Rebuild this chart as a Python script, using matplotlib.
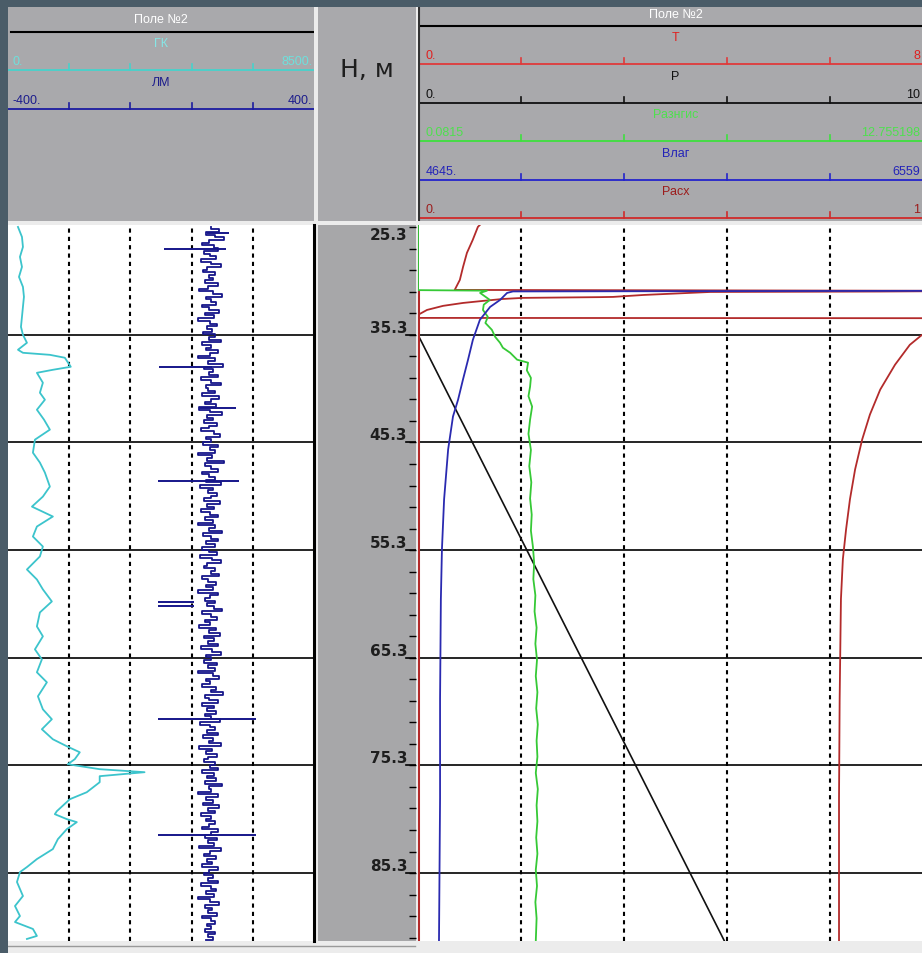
import numpy as np
import matplotlib
matplotlib.use('Agg')
import matplotlib.pyplot as plt
from matplotlib.transforms import blended_transform_factory

W, H = 922, 954

# depth range of the log window and the labelled depth lines
depth_top = 25.10
depth_bot = 91.61
depth_marks = [25.3, 35.3, 45.3, 55.3, 65.3, 75.3, 85.3]
depth_ticks = np.arange(25.3, 91.6, 2.0)

# ---- left track: GK (0..8500) ----
gk_depth = [25.28, 26.21, 27.14, 28.06, 28.99, 29.92, 30.85, 31.77, 32.70, 33.63,
            34.56, 35.30, 36.04, 36.69, 36.97, 37.16, 37.43, 38.27, 38.55, 38.83,
            39.75, 40.68, 41.33, 42.26, 43.18, 44.11, 45.04, 46.25, 47.17, 48.10,
            49.40, 50.33, 51.26, 52.18, 53.11, 54.04, 54.97, 55.89, 57.10, 58.03,
            58.95, 60.07, 61.09, 62.39, 63.31, 64.52, 65.45, 66.65, 67.58, 68.88,
            70.09, 71.01, 71.94, 72.87, 73.52, 74.08, 74.72, 75.19, 75.65, 75.93,
            76.30, 76.86, 77.79, 78.44, 79.55, 79.83, 80.29, 80.57, 81.22, 82.15,
            83.07, 84.00, 84.74, 85.21, 86.13, 87.43, 88.36, 89.29, 89.85, 90.49,
            91.14, 91.42]
gk_value = [277, 388, 415, 332, 388, 305, 415, 443, 415, 388,
            360, 415, 526, 277, 415, 1163, 1578, 1744, 1246, 803,
            969, 886, 1025, 803, 1000, 1163, 748, 692, 886, 1025,
            1163, 969, 665, 1246, 803, 692, 969, 886, 526, 803,
            969, 1218, 886, 803, 969, 748, 941, 803, 1080, 831,
            969, 1218, 941, 1246, 1634, 1994, 1855, 1661, 2547, 3794,
            2547, 2547, 2188, 1717, 1357, 1301, 1634, 1911, 1634, 1385,
            1246, 803, 526, 332, 249, 415, 194, 332, 194, 692,
            803, 526]

# ---- left track: LM (-400..400), sampled every 0.25 m from 25.25 m ----
lm_start, lm_step = 25.25, 0.25
lm_value = [130, 152, 118, 140, 165, 125, 108, 138, 150, 112, 128, 145, 104, 132, 158, 120, 110, 142, 126, 136,
            115, 148, 122, 100, 135, 160, 118, 130, 144, 108, 126, 152, 114, 138, 96, 128, 146, 120, 134, 110,
            142, 125, 158, 106, 132, 118, 150, 128, 98, 140, 122, 162, 112, 136, 126, 148, 104, 130, 156, 118,
            124, 140, 108, 152, 132, 116, 144, 100, 128, 160, 120, 136, 112, 146, 126, 104, 138, 154, 118, 130,
            110, 148, 128, 142, 98, 134, 120, 164, 114, 130, 150, 106, 126, 140, 118, 158, 102, 136, 124, 146,
            132, 112, 154, 120, 138, 104, 128, 148, 116, 136, 96, 142, 126, 160, 110, 132, 150, 118, 140, 108,
            126, 146, 102, 134, 156, 120, 112, 140, 130, 152, 106, 124, 144, 118, 136, 98, 150, 128, 114, 142,
            120, 138, 160, 108, 132, 146, 116, 128, 100, 144, 126, 154, 112, 138, 122, 148, 104, 134, 158, 118,
            130, 112, 146, 124, 140, 98, 136, 152, 118, 128, 108, 144, 132, 162, 114, 126, 150, 106, 138, 120,
            144, 116, 132, 154, 102, 128, 140, 120, 148, 110, 136, 126, 158, 100, 134, 118, 146, 124, 112, 142,
            128, 150, 106, 138, 120, 144, 114, 160, 126, 132, 98, 148, 118, 136, 110, 152, 124, 140, 104, 130,
            118, 142, 126, 108, 150, 132, 114, 146, 122, 138, 100, 156, 128, 112, 144, 120, 134, 106, 148, 126,
            112, 136, 124, 150, 104, 130, 144, 118, 138, 96, 128, 152, 116, 134, 122, 146, 108, 132, 140, 120,
            130, 114, 142, 124, 136, 118]
# single-sample spikes of LM
lm_spike_depth = [25.8, 27.3, 38.3, 42.1, 48.9, 60.15, 60.45, 71.0, 81.8]
lm_spike_lo = [120, 9, -4, 100, -7, -7, -7, -7, -7]
lm_spike_hi = [178, 170, 134, 197, 205, 85, 85, 249, 249]

# ---- right track ----
t_depth = [25.10, 25.28, 26.49, 27.69, 28.99, 30.20, 31.13, 31.22, 31.28, 31.32,
           31.60, 31.78, 31.80, 31.87, 31.97, 32.15, 32.34, 32.61, 32.99, 33.45,
           33.73, 33.76, 35.10, 35.30, 36.23, 38.08, 40.39, 42.71, 45.02, 47.80,
           50.58, 53.36, 56.13, 59.84, 64.47, 69.10, 78.36, 91.61]
t_value = [0.96, 0.93, 0.85, 0.76, 0.70, 0.65, 0.57, 9.0, 7.18, 4.54,
           3.50, 3.03, 2.83, 1.63, 1.32, 1.01, 0.70, 0.39, 0.14, 0.0,
           0.0, 9.0, 9.0, 7.83, 7.64, 7.41, 7.18, 7.02, 6.90, 6.79,
           6.71, 6.65, 6.60, 6.57, 6.56, 6.55, 6.54, 6.54]

p_depth = [25.10, 35.30, 91.61]
p_value = [0.0, 0.0, 5.95]

rz_depth = [25.10, 31.15, 31.20, 31.41, 32.06, 32.50, 32.99, 33.63, 34.20, 34.84,
            35.49, 36.04, 36.50, 36.97, 37.61, 37.89, 38.60, 39.30, 40.11, 41.00,
            41.97, 43.17, 44.50, 46.00, 47.50, 49.00, 50.50, 52.00, 53.50, 55.00,
            56.50, 58.00, 59.50, 61.00, 62.50, 64.00, 65.50, 67.00, 68.50, 70.00,
            71.50, 73.00, 74.50, 76.00, 77.50, 79.00, 80.50, 82.00, 83.50, 85.00,
            86.50, 88.00, 89.50, 91.61]
rz_value = [0.0815, 0.0815, 1.78, 1.61, 1.85, 1.70, 1.68, 1.80, 1.74, 1.90,
            1.98, 2.10, 2.17, 2.35, 2.52, 2.79, 2.76, 2.86, 2.84, 2.80,
            2.89, 2.84, 2.80, 2.86, 2.82, 2.87, 2.84, 2.88, 2.86, 2.91,
            2.94, 2.92, 2.97, 2.95, 3.00, 2.97, 3.01, 2.98, 3.02, 2.99,
            3.03, 3.00, 3.02, 2.98, 3.03, 3.00, 3.02, 2.99, 3.02, 2.98,
            3.01, 2.97, 3.00, 2.98]

vl_depth = [31.20, 31.27, 31.41, 32.06, 32.71, 33.91, 35.76, 37.61, 39.47, 41.32,
            42.89, 45.95, 50.58, 55.21, 59.84, 69.10, 78.36, 91.61]
vl_value = [7000, 4998, 4976, 4950, 4913, 4875, 4849, 4831, 4812, 4794,
            4775, 4757, 4742, 4734, 4730, 4727, 4727, 4723]

rs_depth = [31.25, 91.61]
rs_value = [0.0, 0.0]

# colours
bg = '#4a5c68'
grey = '#a9a9ac'
c_gk = '#3cc4cc'
c_lm = '#16168a'
c_t = '#b32b2b'
c_rz = '#36c936'
c_vl = '#2a2ab0'

plt.rcParams['font.family'] = ['Liberation Sans', 'DejaVu Sans']


def box(x0, y0, x1, y1):
    return [x0 / W, 1 - y1 / H, (x1 - x0) / W, (y1 - y0) / H]


def bare(ax):
    ax.set_xticks([])
    ax.set_yticks([])
    for s in ax.spines.values():
        s.set_visible(False)


fig = plt.figure(figsize=(W / 100, H / 100), dpi=100, facecolor=bg)

# panel background (shows through as the light separators)
pan = fig.add_axes(box(8, 8, 922, 954), facecolor='#ececec')
bare(pan)
pan.set_xlim(8, 922)
pan.set_ylim(954, 8)
pan.plot([8, 415], [947, 947], color='#9a9a9a', lw=1)

# ---------------- headers ----------------
def scale(ax, y, col, title, tcol, lo, hi, lcol, hi_x=0.995, ticks=(0.2, 0.4, 0.6, 0.8)):
    ax.plot([0, 1], [y, y], color=col, lw=1.3, solid_capstyle='butt')
    for t in ticks:
        ax.plot([t, t], [y, y - 6], color=col, lw=1.2)
    ax.text(0.5, y - 27, title, color=tcol, fontsize=9, ha='center', va='center')
    ax.text(0.015, y - 9, lo, color=lcol, fontsize=9, ha='left', va='center')
    ax.text(hi_x, y - 9, hi, color=lcol, fontsize=9, ha='right', va='center')


hl = fig.add_axes(box(8, 8, 314, 222), facecolor=grey)
bare(hl)
hl.set_xlim(0, 1)
hl.set_ylim(222, 8)
hl.text(0.5, 20, 'Поле №2', color='white', fontsize=9, ha='center', va='center')
hl.plot([0.01, 1], [33, 33], color='black', lw=1.5)
scale(hl, 71, '#46d2cc', 'ГК', '#86e6e6', '0.', '8500.', '#6ee0dc')
scale(hl, 110, '#1c1ca0', 'ЛМ', '#1c1c8c', '-400.', '400.', '#1c1c8c')

hd = fig.add_axes(box(318, 8, 416, 222), facecolor=grey)
bare(hd)
hd.text(0.5, 0.71, 'Н, м', color='#1e1e1e', fontsize=18, ha='center', va='center',
        family='DejaVu Sans', transform=hd.transAxes)

hr = fig.add_axes(box(418, 8, 933, 222), facecolor=grey)
bare(hr)
hr.set_xlim(0, 1)
hr.set_ylim(222, 8)
hr.text(0.5, 15, 'Поле №2', color='white', fontsize=9, ha='center', va='center')
hr.plot([0, 1], [27, 27], color='black', lw=1.5)
edge = (920 - 418) / 515
scale(hr, 65, '#e03a3a', 'T', '#e02020', '0.', '8', '#e02020', edge)
scale(hr, 104, '#111111', 'P', '#111111', '0.', '10', '#111111', edge)
scale(hr, 142, '#3ee03e', 'Разнгис', '#4ee04e', '0.0815', '12.755198', '#4ee04e', edge)
scale(hr, 181, '#2323cc', 'Влаг', '#2323b8', '4645.', '6559', '#2323b8', edge)
scale(hr, 219, '#d02a2a', 'Расх', '#9c1c1c', '0.', '1', '#9c1c1c', edge)
hr.plot([0.001, 0.001], [8, 222], color='#333333', lw=1.5)

# ---------------- left track ----------------
al = fig.add_axes(box(8, 226, 314, 942), facecolor='white')
bare(al)
al.set_xlim(0, 8500)
al.set_ylim(depth_bot, depth_top)
al.spines['right'].set_visible(True)
al.spines['right'].set_linewidth(2.2)
for v in [1700, 3400, 5100, 6800]:
    al.axvline(v, color='black', lw=1.5, ls=(0, (2, 2)))
for d in depth_marks[1:]:
    al.axhline(d, color='black', lw=1.2)
al.plot(gk_value, gk_depth, color=c_gk, lw=1.3)

al2 = al.twiny()
bare(al2)
al2.set_xlim(-400, 400)
lm_depth = lm_start + lm_step * np.arange(len(lm_value))
al2.plot(lm_value, lm_depth, color=c_lm, lw=1.3, drawstyle='steps-pre')
al2.hlines(lm_spike_depth, lm_spike_lo, lm_spike_hi, color=c_lm, lw=1.4)

# ---------------- depth track ----------------
ad = fig.add_axes(box(318, 226, 416, 942), facecolor='#a7a7a9')
for s in ad.spines.values():
    s.set_visible(False)
ad.set_xlim(0, 1)
ad.set_ylim(depth_bot, depth_top)
ad.set_xticks([])
ad.set_yticks(depth_ticks)
ad.tick_params(axis='y', left=False, right=True, direction='in', length=5,
               width=1, color='black', labelleft=False)
tr = blended_transform_factory(ad.transAxes, ad.transData)
for d in depth_marks:
    ad.text(0.91, d, f'{d:.1f}', transform=tr, ha='right',
            va='top' if d == depth_marks[0] else 'bottom',
            fontsize=11, fontweight='bold', color='#1e1e1e', family='DejaVu Sans')
    if d != depth_marks[0]:
        ad.axhline(d, xmin=0.9, xmax=1, color='black', lw=1.2)

# ---------------- right track ----------------
ar = fig.add_axes(box(418, 226, 933, 942), facecolor='white')
bare(ar)
ar.set_xlim(0, 8)
ar.set_ylim(depth_bot, depth_top)
for v in [1.6, 3.2, 4.8, 6.4]:
    ar.axvline(v, color='black', lw=1.5, ls=(0, (2, 2)))
for d in depth_marks[1:]:
    ar.axhline(d, color='black', lw=1.2)

ap = ar.twiny()
bare(ap)
ap.set_xlim(0, 10)
ap.plot(p_value, p_depth, color='#111111', lw=1.2)

ars = ar.twiny()
bare(ars)
ars.set_xlim(0, 1)
ars.plot(rs_value, rs_depth, color=c_t, lw=2.2)

arz = ar.twiny()
bare(arz)
arz.set_xlim(0.0815, 12.755198)
arz.plot(rz_value, rz_depth, color=c_rz, lw=1.3)

ar.plot(t_value, t_depth, color=c_t, lw=1.3)

avl = ar.twiny()
bare(avl)
avl.set_xlim(4645, 6559)
avl.plot(vl_value, vl_depth, color=c_vl, lw=1.3)

fig.savefig('out.png', dpi=100, facecolor=bg)
